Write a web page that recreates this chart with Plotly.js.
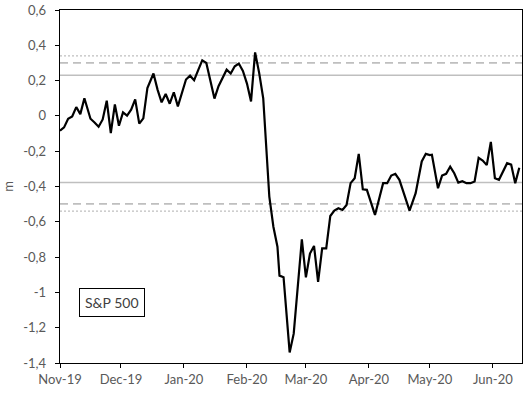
<!DOCTYPE html>
<html>
<head>
<meta charset="utf-8">
<script src="https://cdn.plot.ly/plotly-3.0.1.min.js"></script>
<style>
  html, body { margin: 0; padding: 0; background: #fff; }
  #chart { width: 530px; height: 394px; }
</style>
</head>
<body>
<div id="chart"></div>
<script>
"use strict";

// S&P 500 series
const dates = [
    "2019-11-01", "2019-11-03", "2019-11-05", "2019-11-07", "2019-11-09", "2019-11-11",
    "2019-11-13", "2019-11-16", "2019-11-18", "2019-11-20", "2019-11-22", "2019-11-24",
    "2019-11-26", "2019-11-28", "2019-11-30",
    "2019-12-02", "2019-12-04", "2019-12-06", "2019-12-08", "2019-12-10", "2019-12-12",
    "2019-12-14", "2019-12-17", "2019-12-19", "2019-12-21", "2019-12-23", "2019-12-25",
    "2019-12-27", "2019-12-29", "2019-12-31",
    "2020-01-02", "2020-01-04", "2020-01-06", "2020-01-08", "2020-01-10", "2020-01-12",
    "2020-01-14", "2020-01-16", "2020-01-18", "2020-01-20", "2020-01-22", "2020-01-24",
    "2020-01-26", "2020-01-28", "2020-01-30",
    "2020-02-01", "2020-02-03", "2020-02-05", "2020-02-07", "2020-02-09", "2020-02-12",
    "2020-02-14", "2020-02-16", "2020-02-17", "2020-02-19", "2020-02-22", "2020-02-24",
    "2020-02-28",
    "2020-03-01", "2020-03-03", "2020-03-05", "2020-03-07", "2020-03-09", "2020-03-11",
    "2020-03-13", "2020-03-15", "2020-03-17", "2020-03-19", "2020-03-21", "2020-03-23",
    "2020-03-25", "2020-03-27", "2020-03-29", "2020-03-31",
    "2020-04-04", "2020-04-08", "2020-04-10", "2020-04-12", "2020-04-14", "2020-04-16",
    "2020-04-21", "2020-04-24", "2020-04-27", "2020-04-29",
    "2020-05-01", "2020-05-02", "2020-05-05", "2020-05-07", "2020-05-09", "2020-05-11",
    "2020-05-13", "2020-05-15", "2020-05-17", "2020-05-19", "2020-05-21", "2020-05-23",
    "2020-05-25", "2020-05-27", "2020-05-29", "2020-05-31",
    "2020-06-02", "2020-06-04", "2020-06-06", "2020-06-08", "2020-06-10", "2020-06-12",
    "2020-06-14"
];
const spx = [
    -0.084, -0.065, -0.016, -0.003, 0.050, 0.010,
    0.100, -0.016, -0.037, -0.061, -0.020, 0.086,
    -0.097, 0.065, -0.056,
    0.020, 0.001, 0.035, 0.094, -0.044, -0.014,
    0.158, 0.240, 0.149, 0.077, 0.124, 0.069,
    0.134, 0.054, 0.130,
    0.206, 0.228, 0.202, 0.259, 0.315, 0.300,
    0.206, 0.098, 0.168, 0.213, 0.262, 0.240,
    0.281, 0.297, 0.255,
    0.183, 0.082, 0.360, 0.244, 0.100, -0.457,
    -0.628, -0.741, -0.905, -0.914, -1.340, -1.234,
    -0.700,
    -0.915, -0.780, -0.737, -0.940, -0.751, -0.751,
    -0.567, -0.537, -0.523, -0.533, -0.505, -0.381,
    -0.353, -0.215, -0.416, -0.419,
    -0.561, -0.381, -0.381, -0.338, -0.328, -0.362,
    -0.537, -0.438, -0.258, -0.215,
    -0.222, -0.220, -0.410, -0.338, -0.328, -0.287,
    -0.325, -0.378, -0.370, -0.381, -0.381, -0.372,
    -0.238, -0.253, -0.279, -0.147,
    -0.353, -0.362, -0.310, -0.268, -0.276, -0.381,
    -0.294
];

// reference levels (upper and lower)
const solidLevels = [0.23, -0.378];
const dashLevels = [0.30, -0.499];
const dotLevels = [0.34, -0.539];

const yTickVals = [0.6, 0.4, 0.2, 0, -0.2, -0.4, -0.6, -0.8, -1, -1.2, -1.4];
const yTickText = ["0,6", "0,4", "0,2", "0", "-0,2", "-0,4", "-0,6", "-0,8", "-1", "-1,2", "-1,4"];
const xRange = ["2019-11-01", "2020-06-15 08:00"];

function levelLine(y, dash, width) {
    return {
        type: "line", xref: "paper", yref: "y",
        x0: 0, x1: 1, y0: y, y1: y,
        line: { color: "#bfbfbf", width: width, dash: dash },
        layer: "below"
    };
}

function main() {
    let shapes = [];
    solidLevels.forEach(y => shapes.push(levelLine(y, "solid", 1.5)));
    dashLevels.forEach(y => shapes.push(levelLine(y, "8px,5px", 1.8)));
    dotLevels.forEach(y => shapes.push(levelLine(y, "2px,2px", 1.2)));

    let trace = {
        x: dates,
        y: spx,
        name: "S&P 500",
        type: "scatter",
        mode: "lines",
        line: { color: "#000000", width: 2.2 },
        showlegend: false
    };

    let tickFont = { family: "Lato, 'Open Sans', sans-serif", size: 13, color: "#595959" };

    let layout = {
        width: 530,
        height: 394,
        margin: { l: 60, r: 8, t: 10, b: 31 },
        paper_bgcolor: "#ffffff",
        plot_bgcolor: "#ffffff",
        font: tickFont,
        showlegend: false,
        xaxis: {
            type: "date",
            range: xRange,
            tick0: "2019-11-01",
            dtick: "M1",
            tickformat: "%b-%y",
            ticks: "outside",
            ticklen: 4,
            tickcolor: "#000",
            showgrid: false,
            zeroline: false,
            showline: true,
            linecolor: "#000",
            linewidth: 1.3,
            mirror: true,
            tickfont: tickFont
        },
        yaxis: {
            range: [-1.4, 0.6],
            tickvals: yTickVals,
            ticktext: yTickText,
            ticks: "outside",
            ticklen: 4,
            tickcolor: "#000",
            ticklabelstandoff: 6,
            showgrid: false,
            zeroline: false,
            showline: true,
            linecolor: "#000",
            linewidth: 1.3,
            mirror: true,
            tickfont: tickFont,
            title: { text: "m", font: tickFont, standoff: 12 }
        },
        shapes: shapes,
        annotations: [{
            text: "S&P 500",
            xref: "paper", yref: "paper",
            x: 0.041, y: 0.17,
            xanchor: "left", yanchor: "middle",
            showarrow: false,
            font: { family: "Lato, 'Open Sans', sans-serif", size: 14, color: "#404040" },
            bgcolor: "#ffffff",
            bordercolor: "#000000",
            borderwidth: 1,
            borderpad: 5
        }]
    };

    Plotly.newPlot("chart", [trace], layout, { displayModeBar: false, staticPlot: true });
}

main();
</script>
</body>
</html>
